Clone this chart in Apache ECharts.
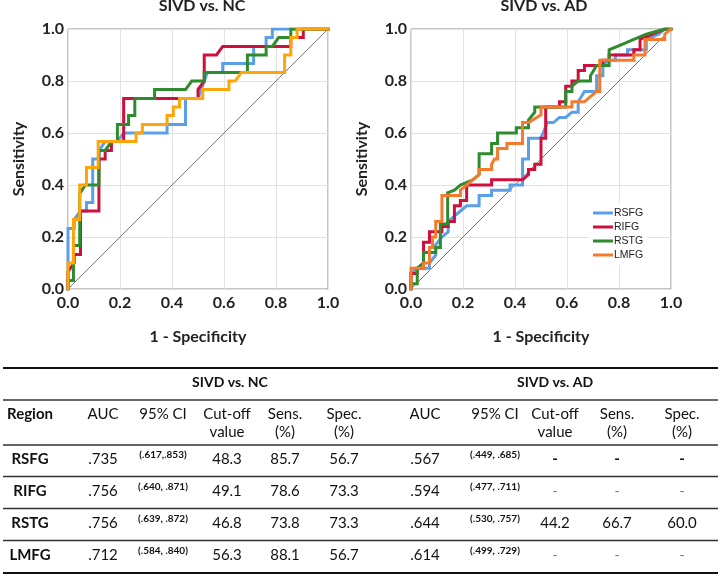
<!DOCTYPE html>
<html>
<head>
<meta charset="utf-8">
<script src="https://cdn.jsdelivr.net/npm/echarts@6/dist/echarts.min.js"></script>
<style>
html,body{margin:0;padding:0;background:#fff;}
#chart{width:721px;height:576px;}
</style>
</head>
<body>
<div id="chart"></div>
<script>
// ---------- Chart titles / names ----------
const chartTitles = ['SIVD vs. NC', 'SIVD vs. AD'];
const seriesNames = ['RSFG', 'RIFG', 'RSTG', 'LMFG'];
const axisTicks = [0, 0.2, 0.4, 0.6, 0.8, 1.0];

// ---------- ROC curves: SIVD vs. NC  ([1 - specificity, sensitivity]) ----------
const nc_rsfg = [[0,0],[0,0.233],[0.024,0.233],[0.024,0.267],[0.048,0.3],[0.071,0.3],[0.071,0.333],[0.095,0.333],[0.095,0.5],[0.119,0.5],[0.119,0.533],[0.143,0.567],[0.19,0.567],[0.214,0.6],[0.381,0.6],[0.381,0.633],[0.452,0.633],[0.452,0.733],[0.5,0.733],[0.524,0.8],[0.536,0.833],[0.595,0.833],[0.595,0.867],[0.714,0.867],[0.714,0.933],[0.762,0.933],[0.762,0.967],[0.786,0.967],[0.786,1],[1,1]];
const nc_rifg = [[0,0],[0,0.067],[0.024,0.1],[0.024,0.133],[0.048,0.133],[0.048,0.3],[0.119,0.3],[0.119,0.5],[0.143,0.5],[0.143,0.533],[0.167,0.533],[0.167,0.567],[0.214,0.567],[0.214,0.733],[0.5,0.733],[0.5,0.767],[0.524,0.8],[0.524,0.9],[0.571,0.9],[0.595,0.933],[0.857,0.933],[0.857,0.967],[0.905,0.967],[0.905,1],[1,1]];
const nc_rstg = [[0,0],[0,0.033],[0.021,0.033],[0.021,0.167],[0.045,0.167],[0.045,0.367],[0.067,0.4],[0.119,0.4],[0.119,0.533],[0.143,0.533],[0.167,0.567],[0.19,0.567],[0.19,0.633],[0.233,0.633],[0.233,0.667],[0.257,0.667],[0.257,0.733],[0.333,0.733],[0.333,0.767],[0.452,0.767],[0.476,0.8],[0.524,0.8],[0.524,0.833],[0.69,0.833],[0.69,0.9],[0.762,0.9],[0.762,0.933],[0.786,0.933],[0.81,0.967],[0.857,0.967],[0.857,1],[1,1]];
const nc_lmfg = [[0,0],[0,0.1],[0.021,0.1],[0.021,0.267],[0.045,0.267],[0.045,0.4],[0.071,0.4],[0.071,0.467],[0.116,0.467],[0.116,0.567],[0.262,0.567],[0.262,0.6],[0.286,0.6],[0.286,0.633],[0.381,0.633],[0.381,0.667],[0.405,0.667],[0.405,0.7],[0.429,0.7],[0.429,0.733],[0.518,0.733],[0.518,0.767],[0.619,0.767],[0.619,0.8],[0.643,0.8],[0.667,0.833],[0.833,0.833],[0.833,0.9],[0.857,0.9],[0.857,0.967],[0.881,0.967],[0.881,1],[1,1]];

// ---------- ROC curves: SIVD vs. AD ----------
const ad_rsfg = [[0,0],[0,0.06],[0.024,0.08],[0.071,0.08],[0.071,0.1],[0.095,0.13],[0.095,0.17],[0.119,0.2],[0.143,0.22],[0.143,0.26],[0.167,0.28],[0.19,0.3],[0.214,0.32],[0.262,0.32],[0.262,0.36],[0.31,0.36],[0.31,0.38],[0.381,0.38],[0.381,0.4],[0.429,0.4],[0.429,0.5],[0.452,0.5],[0.452,0.58],[0.5,0.58],[0.524,0.64],[0.548,0.64],[0.571,0.66],[0.595,0.66],[0.619,0.68],[0.643,0.68],[0.643,0.72],[0.667,0.76],[0.714,0.76],[0.714,0.82],[0.738,0.82],[0.738,0.86],[0.762,0.88],[0.786,0.88],[0.786,0.9],[0.833,0.9],[0.833,0.92],[0.905,0.92],[0.905,0.96],[0.952,0.98],[0.976,1],[1,1]];
const ad_rifg = [[0,0],[0,0.06],[0.024,0.06],[0.024,0.08],[0.048,0.08],[0.048,0.18],[0.071,0.18],[0.071,0.22],[0.119,0.22],[0.119,0.24],[0.143,0.24],[0.143,0.26],[0.167,0.26],[0.167,0.32],[0.19,0.32],[0.19,0.34],[0.214,0.34],[0.214,0.4],[0.31,0.4],[0.31,0.42],[0.429,0.42],[0.452,0.44],[0.452,0.46],[0.476,0.46],[0.476,0.48],[0.5,0.48],[0.5,0.58],[0.518,0.58],[0.518,0.7],[0.571,0.7],[0.571,0.72],[0.595,0.72],[0.595,0.78],[0.619,0.78],[0.619,0.8],[0.643,0.8],[0.643,0.84],[0.667,0.84],[0.667,0.86],[0.738,0.86],[0.738,0.88],[0.762,0.88],[0.762,0.9],[0.857,0.9],[0.857,0.92],[0.881,0.92],[0.881,0.96],[0.929,0.98],[0.976,1],[1,1]];
const ad_rstg = [[0,0],[0,0.02],[0.024,0.02],[0.024,0.08],[0.048,0.1],[0.048,0.14],[0.095,0.14],[0.095,0.16],[0.113,0.16],[0.113,0.25],[0.141,0.25],[0.141,0.37],[0.167,0.38],[0.19,0.4],[0.238,0.42],[0.262,0.44],[0.262,0.52],[0.31,0.52],[0.31,0.56],[0.333,0.56],[0.333,0.6],[0.405,0.6],[0.405,0.62],[0.452,0.62],[0.452,0.65],[0.476,0.68],[0.476,0.7],[0.595,0.7],[0.595,0.76],[0.619,0.76],[0.619,0.78],[0.643,0.8],[0.69,0.8],[0.69,0.82],[0.714,0.86],[0.762,0.86],[0.762,0.92],[0.81,0.94],[0.857,0.96],[0.905,0.98],[0.976,1],[1,1]];
const ad_lmfg = [[0,0],[0,0.08],[0.048,0.08],[0.048,0.1],[0.071,0.1],[0.071,0.16],[0.083,0.16],[0.083,0.2],[0.095,0.2],[0.095,0.26],[0.119,0.26],[0.119,0.36],[0.19,0.36],[0.19,0.38],[0.214,0.4],[0.238,0.42],[0.262,0.44],[0.262,0.46],[0.31,0.46],[0.31,0.48],[0.321,0.5],[0.333,0.5],[0.333,0.54],[0.369,0.54],[0.369,0.56],[0.429,0.56],[0.429,0.64],[0.452,0.64],[0.5,0.67],[0.5,0.7],[0.619,0.7],[0.619,0.72],[0.667,0.72],[0.69,0.74],[0.714,0.76],[0.726,0.76],[0.726,0.88],[0.857,0.88],[0.857,0.9],[0.9,0.9],[0.9,0.96],[0.976,0.96],[0.976,0.98],[1,1]];

const diagonal = [[0,0],[1,1]];

// ---------- Table ----------
const headerLine1 = ['Region','AUC','95% CI','Cut-off','Sens.','Spec.','AUC','95% CI','Cut-off','Sens.','Spec.'];
const headerLine2 = ['','','','value','(%)','(%)','','','value','(%)','(%)'];
const regions = ['RSFG','RIFG','RSTG','LMFG'];
const nc_auc  = ['.735','.756','.756','.712'];
const nc_ci   = ['(.617,.853)','(.640, .871)','(.639, .872)','(.584, .840)'];
const nc_cut  = ['48.3','49.1','46.8','56.3'];
const nc_sens = ['85.7','78.6','73.8','88.1'];
const nc_spec = ['56.7','73.3','73.3','56.7'];
const ad_auc  = ['.567','.594','.644','.614'];
const ad_ci   = ['(.449, .685)','(.477, .711)','(.530, .757)','(.499, .729)'];
const ad_cut  = ['-','-','44.2','-'];
const ad_sens = ['-','-','66.7','-'];
const ad_spec = ['-','-','60.0','-'];

// ---------- Build ----------
const FONT = 'Lato, "Open Sans", sans-serif';
const colorsNC = ['#5B9FE8', '#D0103C', '#2E8B2E', '#FFA50A'];
const colorsAD = ['#5B9FE8', '#D0103C', '#2E8B2E', '#F47A2E'];
const ncData = [nc_rsfg, nc_rifg, nc_rstg, nc_lmfg];
const adData = [ad_rsfg, ad_rifg, ad_rstg, ad_lmfg];

const gridPos = [{left: 68, top: 29, width: 260, height: 260}, {left: 411, top: 29, width: 260, height: 260}];

function makeAxis(idx, isX) {
  return {
    type: 'value', gridIndex: idx, min: 0, max: 1, interval: 0.2,
    name: isX ? '1 - Specificity' : 'Sensitivity',
    nameLocation: 'middle', nameGap: isX ? 40 : 41,
    nameTextStyle: {fontFamily: FONT, fontWeight: 'bold', fontSize: 16, color: '#222'},
    axisLine: {show: false}, axisTick: {show: false},
    axisLabel: {fontFamily: FONT, fontWeight: 'bold', fontSize: 16, color: '#222', margin: isX ? 6 : 4,
                formatter: v => v.toFixed(1)},
    splitLine: {show: true, lineStyle: {color: '#e2e2e2', width: 1}}
  };
}

const series = [];
[adData, ncData].forEach((set, k) => {
  const gi = k === 0 ? 1 : 0;
  series.push({type: 'line', name: 'ref' + gi, xAxisIndex: gi, yAxisIndex: gi, data: diagonal,
    symbol: 'none', silent: true, lineStyle: {color: '#555', width: 0.8}, z: 1});
  set.forEach((d, i) => {
    const c = gi === 0 ? colorsNC[i] : colorsAD[i];
    series.push({type: 'line', name: seriesNames[i], xAxisIndex: gi, yAxisIndex: gi, data: d,
      symbol: 'none', showSymbol: false, itemStyle: {color: c},
      lineStyle: {color: c, width: 3, cap: 'square', join: 'miter'}, z: 2 + i});
  });
});

const graphic = [];
function txt(x, y, text, font, fill) {
  graphic.push({type: 'text', x: x, y: y, silent: true,
    style: {text: text, font: font, fill: fill || '#111', align: 'center', verticalAlign: 'middle',
            textAlign: 'center', textVerticalAlign: 'middle'}});
}
function hline(y, w, c) {
  graphic.push({type: 'line', silent: true, shape: {x1: 3, y1: y, x2: 718, y2: y},
    style: {stroke: c, lineWidth: w}});
}
// chart titles
txt(202, 6, chartTitles[0], 'bold 16px ' + FONT, '#222');
txt(544, 6, chartTitles[1], 'bold 16px ' + FONT, '#222');

// table
const colX = [30, 103, 163, 227, 285, 344, 425, 495, 555, 617, 682];
const rowY = [459, 491, 523, 555];
hline(368, 2, '#111');
hline(400, 1.5, '#333');
hline(445, 1.5, '#333');
hline(476.5, 1.5, '#333');
hline(508.5, 1.5, '#333');
hline(540.5, 1.5, '#333');
hline(573, 2.2, '#111');
txt(230, 382, chartTitles[0], 'bold 14px ' + FONT);
txt(555, 382, chartTitles[1], 'bold 14px ' + FONT);
headerLine1.forEach((h, i) => txt(colX[i], 414, h, (i === 0 ? 'bold ' : '') + '15px ' + FONT));
headerLine2.forEach((h, i) => { if (h) txt(colX[i], 432, h, '15px ' + FONT); });
const cols = [nc_auc, nc_ci, nc_cut, nc_sens, nc_spec, ad_auc, ad_ci, ad_cut, ad_sens, ad_spec];
regions.forEach((r, ri) => {
  const y = rowY[ri];
  txt(colX[0], y, r, 'bold 15px ' + FONT);
  cols.forEach((col, ci) => {
    const v = col[ri];
    const x = colX[ci + 1];
    if (ci === 1 || ci === 6) {
      txt(x, y - 4, v, 'bold 10px ' + FONT);
    } else if (v === '-') {
      if (ri === 0) txt(x, y, v, 'bold 15px ' + FONT, '#111');
      else txt(x, y, v, '14px ' + FONT, '#777');
    } else {
      txt(x, y, v, '15px ' + FONT);
    }
  });
});

const chart = echarts.init(document.getElementById('chart'), null, {renderer: 'canvas'});
chart.setOption({
  animation: false,
  backgroundColor: '#fff',
  grid: gridPos.map(g => Object.assign({show: true, borderColor: '#8c8c8c', borderWidth: 1, containLabel: false}, g)),
  xAxis: [makeAxis(0, true), makeAxis(1, true)],
  yAxis: [makeAxis(0, false), makeAxis(1, false)],
  legend: {
    orient: 'vertical', left: 589, top: 203, padding: [3, 4], itemGap: 0,
    backgroundColor: '#fff', icon: 'rect', itemWidth: 20, itemHeight: 3,
    selectedMode: false,
    textStyle: {fontFamily: '"Liberation Sans", Arial, sans-serif', fontSize: 10.5, color: '#222',
                lineHeight: 14, padding: [0, 0, 0, -4]},
    data: seriesNames.map((n, i) => ({name: n, itemStyle: {color: colorsAD[i]}}))
  },
  series: series,
  graphic: graphic
});
</script>
</body>
</html>
